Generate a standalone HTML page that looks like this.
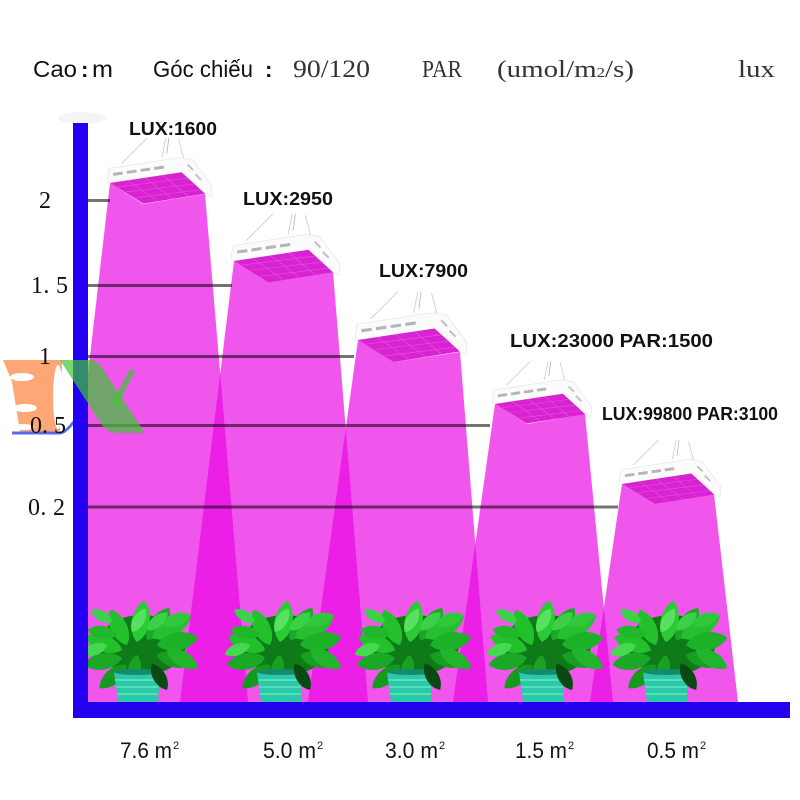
<!DOCTYPE html>
<html>
<head>
<meta charset="utf-8">
<style>
html,body{margin:0;padding:0;background:#fff;}
svg{display:block;}
</style>
</head>
<body>
<svg width="800" height="800" viewBox="0 0 800 800" xmlns="http://www.w3.org/2000/svg">
<defs>
  <path id="leaf" d="M0,0 C6,-8 22,-9 30,0 C22,9 6,8 0,0Z"/>
  <g id="plant">
    <ellipse cx="5" cy="45" rx="44" ry="30" fill="#0e7a18"/>
    <use href="#leaf" transform="translate(-10,45) rotate(-115) scale(1.3)" fill="#22c02b"/>
    <use href="#leaf" transform="translate(0,42) rotate(-80) scale(1.4)" fill="#2acb35"/>
    <use href="#leaf" transform="translate(10,40) rotate(-55) scale(1.3)" fill="#1aa826"/>
    <use href="#leaf" transform="translate(15,38) rotate(-30) scale(1.5)" fill="#25bf30"/>
    <use href="#leaf" transform="translate(20,45) rotate(-10) scale(1.4)" fill="#1db128"/>
    <use href="#leaf" transform="translate(20,55) rotate(15) scale(1.2)" fill="#17a020"/>
    <use href="#leaf" transform="translate(30,50) rotate(30) scale(1.2)" fill="#20b52b"/>
    <use href="#leaf" transform="translate(-15,50) rotate(200) scale(1.3)" fill="#22c02b"/>
    <use href="#leaf" transform="translate(-15,58) rotate(170) scale(1.3)" fill="#1ba826"/>
    <use href="#leaf" transform="translate(-10,65) rotate(140) scale(1.2)" fill="#159a1f"/>
    <use href="#leaf" transform="translate(-25,22) rotate(-150) scale(0.8)" fill="#3ad44a"/>
    <use href="#leaf" transform="translate(-5,32) rotate(-60) scale(0.9)" fill="#58e060"/>
    <use href="#leaf" transform="translate(25,25) rotate(-20) scale(1)" fill="#30c83a"/>
    <use href="#leaf" transform="translate(0,55) rotate(100) scale(1)" fill="#1aa124"/>
    <use href="#leaf" transform="translate(-30,45) rotate(160) scale(0.9)" fill="#45d850"/>
    <use href="#leaf" transform="translate(-20,35) rotate(-170) scale(1)" fill="#1fb82a"/>
    <use href="#leaf" transform="translate(10,30) rotate(-40) scale(0.9)" fill="#3bd046"/>
    <polygon points="-23,72 23,72 21,102 -19,102" fill="#2cc9a6"/>
    <ellipse cx="0" cy="72" rx="23" ry="3" fill="#168a6e"/>
    <line x1="-22" y1="80" x2="22" y2="80" stroke="#62e4c8" stroke-width="1.5"/>
    <line x1="-21" y1="87" x2="21" y2="87" stroke="#62e4c8" stroke-width="1.5"/>
    <line x1="-20" y1="94" x2="21" y2="94" stroke="#62e4c8" stroke-width="1.5"/>
    <use href="#leaf" transform="translate(15,64) rotate(60) scale(1)" fill="#0a4a10"/>
  </g>
  <g id="lamp">
    <line x1="12" y1="-20" x2="38" y2="-46" stroke="#cfcfcf" stroke-width="0.9"/>
    <line x1="53" y1="-26" x2="57" y2="-46" stroke="#cfcfcf" stroke-width="0.9"/>
    <line x1="58" y1="-30" x2="60" y2="-46" stroke="#bbbbbb" stroke-width="0.9"/>
    <line x1="77" y1="-18" x2="70" y2="-45" stroke="#cfcfcf" stroke-width="0.9"/>
    <polygon points="-3,-2 -1,-15 71,-26 84,-24 104,3 103,14 97,11 73,-11 0,0" fill="#fbfbfb" stroke="#e2e2e2" stroke-width="0.6"/>
    <rect x="3" y="-11" width="10" height="3" fill="#b5b5b5" transform="rotate(-8 8 -10)"/>
    <rect x="17" y="-13" width="10" height="3" fill="#b5b5b5" transform="rotate(-8 22 -12)"/>
    <rect x="31" y="-15" width="10" height="3" fill="#b5b5b5" transform="rotate(-8 36 -14)"/>
    <rect x="45" y="-17" width="10" height="3" fill="#b5b5b5" transform="rotate(-8 50 -16)"/>
    <rect x="78" y="-17" width="8" height="2" fill="#c0c0c0" transform="rotate(45 82 -16)"/>
    <rect x="86" y="-7" width="8" height="2" fill="#c0c0c0" transform="rotate(45 90 -6)"/>
    <polygon points="0,0 73,-11 97,11 34,21" fill="#d923d2"/>
    <g stroke="#e866e2" stroke-width="0.6" opacity="0.7">
      <line x1="8" y1="4" x2="80" y2="-5"/>
      <line x1="17" y1="9" x2="87" y2="1"/>
      <line x1="26" y1="15" x2="93" y2="7"/>
      <line x1="18" y1="-3" x2="48" y2="18"/>
      <line x1="36" y1="-5" x2="64" y2="16"/>
      <line x1="54" y1="-8" x2="80" y2="14"/>
    </g>
  </g>
  <clipPath id="clipBeams"><rect x="73" y="0" width="727" height="702"/></clipPath>
</defs>

<rect width="800" height="800" fill="#fff"/>

<!-- header -->
<g font-family="Liberation Sans, sans-serif" fill="#111">
  <text x="33" y="77" font-size="23" textLength="44" lengthAdjust="spacingAndGlyphs">Cao</text>
  <text x="81" y="77" font-size="22" font-weight="bold">:</text>
  <text x="92" y="77" font-size="23" textLength="21" lengthAdjust="spacingAndGlyphs">m</text>
  <text x="153" y="77" font-size="23" textLength="100" lengthAdjust="spacingAndGlyphs">Góc chiếu</text>
  <text x="265" y="77" font-size="22" font-weight="bold">:</text>
</g>
<g font-family="Liberation Serif, serif" fill="#333">
  <text x="293" y="77" font-size="25" textLength="77" lengthAdjust="spacingAndGlyphs">90/120</text>
  <text x="422" y="77" font-size="24" textLength="40" lengthAdjust="spacingAndGlyphs">PAR</text>
  <text x="497" y="77" font-size="24" textLength="137" lengthAdjust="spacingAndGlyphs"><tspan>(umol/m</tspan><tspan font-size="14">2</tspan><tspan>/s)</tspan></text>
  <text x="738" y="77" font-size="24" textLength="37" lengthAdjust="spacingAndGlyphs">lux</text>
</g>

<!-- axis top glow -->
<ellipse cx="82" cy="118" rx="24" ry="6" fill="#f5f5f5"/>

<!-- beams -->
<g clip-path="url(#clipBeams)" fill="rgb(233,4,225)" fill-opacity="0.676">
  <polygon points="110,183 143,204 205,194 248,702 50,702"/>
  <polygon points="234,261 269,282 333,272 368,702 180,702"/>
  <polygon points="358,340 394,362 460,352 488,702 308,702"/>
  <polygon points="495,404 527,424 585,414 613,702 453,702"/>
  <polygon points="622,484 654,504 714,494 738,702 590,702"/>
</g>

<!-- watermark orange -->
<polygon points="3,360 62,360 60,432 20,432 12,382" fill="#ffa676"/>
<ellipse cx="22" cy="377" rx="12" ry="4" fill="#fff"/>
<ellipse cx="25" cy="408" rx="12" ry="4" fill="#fff"/>
<ellipse cx="24" cy="427" rx="10" ry="3" fill="#fff"/>
<ellipse cx="58" cy="397" rx="5" ry="32" fill="#fff"/>
<path d="M12,433 L60,433 Q68,433 86,404" fill="none" stroke="#5a6af0" stroke-width="3"/>

<!-- y tick labels -->
<g font-family="Liberation Serif, serif" font-size="24" fill="#111">
  <text x="39" y="208">2</text>
  <text x="31" y="293" textLength="37" lengthAdjust="spacing">1. 5</text>
  <text x="39" y="364">1</text>
  <text x="30" y="433" textLength="36" lengthAdjust="spacing">0. 5</text>
  <text x="28" y="515" textLength="37" lengthAdjust="spacing">0. 2</text>
</g>

<!-- guide lines -->
<g stroke="#000" stroke-opacity="0.55" stroke-width="3">
  <line x1="88" y1="200.5" x2="110" y2="200.5"/>
  <line x1="88" y1="285.5" x2="232" y2="285.5"/>
  <line x1="88" y1="356.5" x2="354" y2="356.5"/>
  <line x1="88" y1="425.5" x2="490" y2="425.5"/>
  <line x1="88" y1="507" x2="618" y2="507"/>
</g>

<!-- lamps -->
<use href="#lamp" transform="translate(110,183) scale(0.98)"/>
<use href="#lamp" transform="translate(234,261) scale(1.02)"/>
<use href="#lamp" transform="translate(358,340) scale(1.05)"/>
<use href="#lamp" transform="translate(495,404) scale(0.93)"/>
<use href="#lamp" transform="translate(622,484) scale(0.95)"/>

<!-- lamp labels -->
<g font-family="Liberation Sans, sans-serif" font-weight="bold" font-size="18" fill="#111">
  <text x="129" y="135" textLength="88" lengthAdjust="spacingAndGlyphs">LUX:1600</text>
  <text x="243" y="205" textLength="90" lengthAdjust="spacingAndGlyphs">LUX:2950</text>
  <text x="379" y="277" textLength="89" lengthAdjust="spacingAndGlyphs">LUX:7900</text>
  <text x="510" y="347" textLength="203" lengthAdjust="spacingAndGlyphs">LUX:23000  PAR:1500</text>
  <text x="602" y="420" textLength="176" lengthAdjust="spacingAndGlyphs">LUX:99800  PAR:3100</text>
</g>

<!-- plants -->
<use href="#plant" transform="translate(137,600)"/>
<use href="#plant" transform="translate(280,600)"/>
<use href="#plant" transform="translate(410,600)"/>
<use href="#plant" transform="translate(542,600)"/>
<use href="#plant" transform="translate(666,600)"/>

<!-- axes -->
<rect x="73" y="123" width="15" height="595" fill="#2300ef"/>
<rect x="73" y="702" width="717" height="16" fill="#2300ef"/>

<!-- watermark green (on top) -->
<path d="M60,360 L90,360 Q99,361 104,371 L145,433 L116,433 Q107,432 102,425 Z" fill="rgb(60,200,50)" fill-opacity="0.7"/>
<polygon points="112,402 130,369 135,371 117,408" fill="rgb(60,200,50)" fill-opacity="0.7"/>

<!-- x labels -->
<g font-family="Liberation Sans, sans-serif" font-size="22" fill="#111">
  <text x="120" y="758" textLength="52" lengthAdjust="spacingAndGlyphs">7.6 m</text>
  <text x="173" y="749" font-size="11">2</text>
  <text x="263" y="758" textLength="53" lengthAdjust="spacingAndGlyphs">5.0 m</text>
  <text x="317" y="749" font-size="11">2</text>
  <text x="385" y="758" textLength="53" lengthAdjust="spacingAndGlyphs">3.0 m</text>
  <text x="439" y="749" font-size="11">2</text>
  <text x="515" y="758" textLength="52" lengthAdjust="spacingAndGlyphs">1.5 m</text>
  <text x="568" y="749" font-size="11">2</text>
  <text x="647" y="758" textLength="52" lengthAdjust="spacingAndGlyphs">0.5 m</text>
  <text x="700" y="749" font-size="11">2</text>
</g>
</svg>
</body>
</html>
